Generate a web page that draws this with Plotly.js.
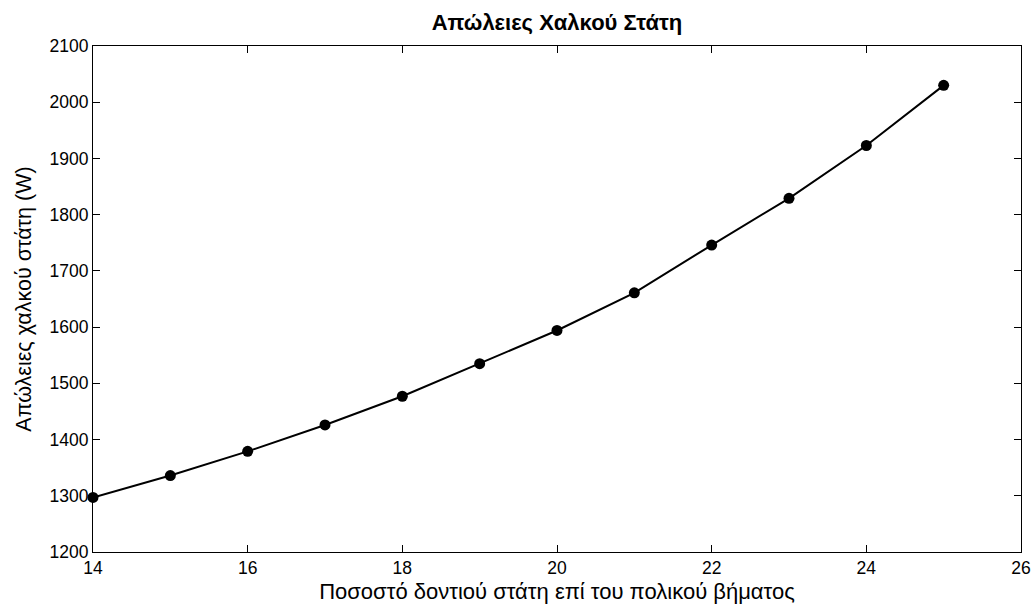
<!DOCTYPE html>
<html><head><meta charset="utf-8">
<script src="https://cdn.plot.ly/plotly-3.0.1.min.js"></script>
<style>html,body{margin:0;padding:0;background:#fff}</style>
</head><body>
<div id="chart" style="width:1035px;height:614px"></div>
<script>
const xValues = [14, 15, 16, 17, 18, 19, 20, 21, 22, 23, 24, 25];
const copperLoss = [1297, 1336, 1379, 1426, 1477, 1535, 1594, 1661, 1746, 1829, 1923, 2030];
const xTicks = [14, 16, 18, 20, 22, 24, 26];
const yTicks = [1200, 1300, 1400, 1500, 1600, 1700, 1800, 1900, 2000, 2100];

const font = "Liberation Sans, Arial, sans-serif";
const axisCommon = {
  showline: true, mirror: 'ticks', linecolor: '#000', linewidth: 1,
  ticks: 'inside', ticklen: 7, tickcolor: '#000', tickwidth: 1,
  showgrid: false, zeroline: false,
  tickfont: {family: font, size: 17.5, color: '#000'}
};
Plotly.newPlot('chart', [{
  x: xValues, y: copperLoss, type: 'scatter', mode: 'lines+markers',
  line: {color: '#000', width: 2},
  marker: {color: '#000', size: 11, symbol: 'circle'},
  cliponaxis: false
}], {
  width: 1035, height: 614,
  margin: {l: 93, r: 14, t: 46, b: 62},
  paper_bgcolor: '#fff', plot_bgcolor: '#fff',
  showlegend: false,
  title: {text: '<b>Απώλειες Χαλκού Στάτη</b>', font: {family: font, size: 22, color: '#000'}, x: 0.5, xref: 'paper', y: 0.963, yanchor: 'middle'},
  xaxis: Object.assign({}, axisCommon, {
    range: [14, 26], tickvals: xTicks, ticktext: xTicks.map(String),
    title: {text: 'Ποσοστό δοντιού στάτη επί του πολικού βήματος', font: {family: font, size: 22, color: '#000'}, standoff: 6}
  }),
  yaxis: Object.assign({}, axisCommon, {
    range: [1200, 2100], tickvals: yTicks, ticktext: yTicks.map(String),
    title: {text: 'Απώλειες χαλκού στάτη (W)', font: {family: font, size: 21.5, color: '#000'}, standoff: 12}
  })
}, {displayModeBar: false, staticPlot: true});
</script>
</body></html>
